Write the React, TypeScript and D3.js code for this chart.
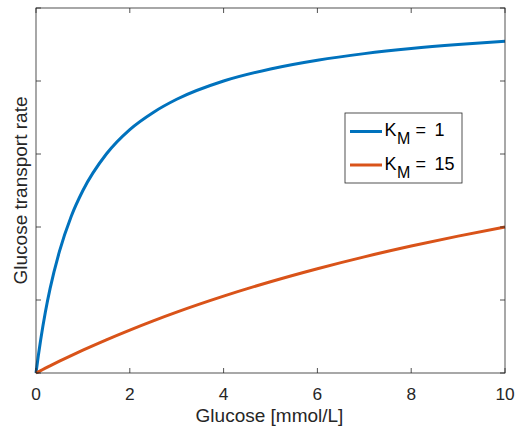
import React from "react";
import * as d3 from "d3";

const glucose = [0, 0.05, 0.1, 0.2, 0.3, 0.5, 0.75, 1, 1.5, 2, 2.5, 3, 4, 5, 6, 7, 8, 9, 10];
const rateKm1 = [0, 0.048, 0.091, 0.167, 0.231, 0.333, 0.429, 0.5, 0.6, 0.667, 0.714, 0.75, 0.8, 0.833, 0.857, 0.875, 0.889, 0.9, 0.909];
const rateKm15 = [0, 0.0033, 0.0066, 0.0132, 0.0196, 0.0323, 0.0476, 0.0625, 0.0909, 0.1176, 0.1429, 0.1667, 0.2105, 0.25, 0.2857, 0.3182, 0.3478, 0.375, 0.4];
const xTicks = [0, 2, 4, 6, 8, 10];
const yTicks = [0, 0.2, 0.4, 0.6, 0.8, 1];
const seriesNames = ["1", "15"];

const W = 516, H = 430;
const L = 36, R = 505, T = 8, B = 373;
const font = "'Liberation Sans', Arial, Helvetica, sans-serif";
const axisColor = "#262626";
const colors = ["#0072BD", "#D95319"];

export default function App() {
  const x = d3.scaleLinear().domain([0, 10]).range([L, R]);
  const y = d3.scaleLinear().domain([0, 1]).range([B, T]);
  const line = d3.line<number>().x((_, i) => x(glucose[i])).y((d) => y(d)).curve(d3.curveMonotoneX);
  const series = [rateKm1, rateKm15];
  return (
    <svg width={W} height={H} style={{ position: "absolute", left: 0, top: 0, background: "#fff" }} fontFamily={font}>
      <rect x={0} y={0} width={W} height={H} fill="#fff" />
      {series.map((s, i) => (
        <path key={i} d={line(s) || ""} fill="none" stroke={colors[i]} strokeWidth={3} />
      ))}
      <rect x={L} y={T} width={R - L} height={B - T} fill="none" stroke={axisColor} strokeWidth={0.8} />
      {xTicks.map((t) => (
        <g key={"x" + t}>
          <line x1={x(t)} x2={x(t)} y1={B} y2={B - 5} stroke={axisColor} strokeWidth={0.8} />
          <line x1={x(t)} x2={x(t)} y1={T} y2={T + 5} stroke={axisColor} strokeWidth={0.8} />
          <text x={x(t)} y={399.5} textAnchor="middle" fontSize={17.3} fill={axisColor}>{t}</text>
        </g>
      ))}
      {yTicks.map((t) => (
        <g key={"y" + t}>
          <line x1={L} x2={L + 5} y1={y(t)} y2={y(t)} stroke={axisColor} strokeWidth={0.8} />
          <line x1={R} x2={R - 5} y1={y(t)} y2={y(t)} stroke={axisColor} strokeWidth={0.8} />
        </g>
      ))}
      <text x={(L + R) / 2 - 1} y={422} textAnchor="middle" fontSize={19} fill={axisColor}>Glucose [mmol/L]</text>
      <text transform={`translate(27,${(T + B) / 2}) rotate(-90)`} textAnchor="middle" fontSize={19} fill={axisColor}>Glucose transport rate</text>
      <rect x={345} y={113} width={117} height={70} fill="#fff" stroke={axisColor} strokeWidth={0.8} />
      {seriesNames.map((n, i) => {
        const cy = 131.5 + i * 33.5;
        return (
          <g key={n}>
            <line x1={350} x2={382} y1={cy} y2={cy} stroke={colors[i]} strokeWidth={3} />
            <text y={cy + 4.5} fontSize={18} fill="#000">
              <tspan x={384.5}>K</tspan>
              <tspan x={397} fontSize={16} dy={8}>M</tspan>
              <tspan x={415.5} dy={-8}>=</tspan>
              <tspan x={434.5}>{n}</tspan>
            </text>
          </g>
        );
      })}
    </svg>
  );
}
